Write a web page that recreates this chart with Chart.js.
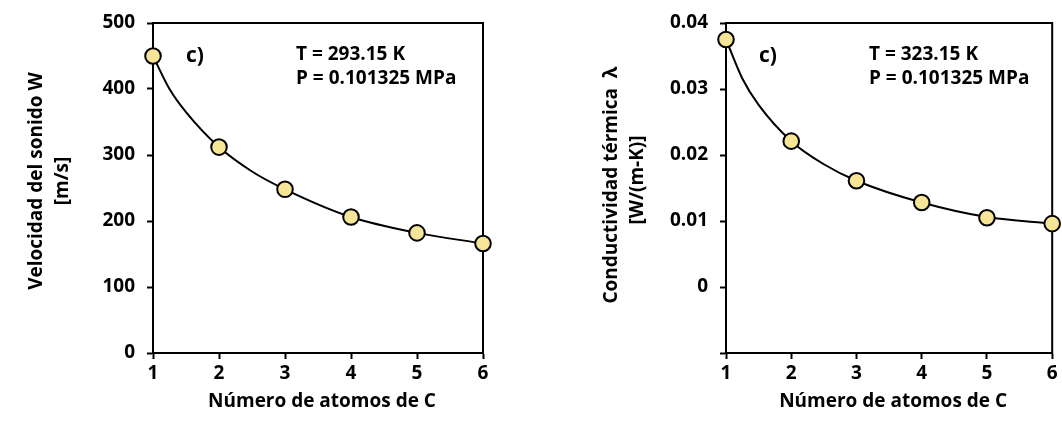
<!DOCTYPE html>
<html><head><meta charset="utf-8">
<script src="https://cdn.jsdelivr.net/npm/chart.js@4.4.1/dist/chart.umd.min.js"></script>
<style>
html,body{margin:0;padding:0;background:#fff;}
#wrap{position:relative;width:1062px;height:423px;overflow:hidden;background:#fff;}
.panel{position:absolute;top:0;width:531px;height:423px;}
canvas{display:block;}
</style></head><body>
<div id="wrap">
  <div class="panel" style="left:0"><canvas id="c1" width="531" height="423"></canvas></div>
  <div class="panel" style="left:531px"><canvas id="c2" width="531" height="423"></canvas></div>
</div>
<script>
// ---- data (measured points) ----
const carbonAtoms = [1, 2, 3, 4, 5, 6];
const soundSpeed = [450, 312, 248, 206, 182, 166];
const thermalConductivity = [0.0375, 0.0221, 0.0161, 0.0128, 0.0105, 0.0096];

// ---- fitted trend curve ----
const curveAtoms = [1, 1.25, 1.5, 2, 2.5, 3, 4, 5, 6];
const soundSpeedCurve = [450, 400, 365, 312, 275, 248, 206, 182, 166];
const conductivityCurve = [0.0375, 0.0316, 0.0276, 0.0221, 0.0186, 0.0161, 0.0128, 0.0106, 0.0096];

// ---- tick labels ----
const atomTicks = [1, 2, 3, 4, 5, 6];
const speedTicks = [0, 100, 200, 300, 400, 500];
const speedTickLabels = ['0', '100', '200', '300', '400', '500'];
const conductivityTicks = [-0.01, 0, 0.01, 0.02, 0.03, 0.04];
const conductivityTickLabels = ['', '0', '0.01', '0.02', '0.03', '0.04'];

const FONT = "'Open Sans', 'Noto Sans', sans-serif";
const POINT_FILL = '#f6e497';

const panelText = {
  id: 'panelText',
  beforeDatasetsDraw(chart) {
    const ctx = chart.ctx, a = chart.chartArea;
    ctx.save();
    ctx.strokeStyle = '#000';
    ctx.lineWidth = 2;
    ctx.beginPath();
    ctx.moveTo(a.left - 1, a.top);
    ctx.lineTo(a.right, a.top);
    ctx.lineTo(a.right, a.bottom + 1);
    ctx.stroke();
    ctx.restore();
  },
  afterDraw(chart, args, o) {
    const ctx = chart.ctx, a = chart.chartArea;
    ctx.save();
    ctx.fillStyle = '#000';
    ctx.textAlign = 'center';
    ctx.textBaseline = 'middle';
    ctx.font = 'bold ' + o.titleSize + 'px ' + FONT;
    o.yTitle.forEach((t, i) => {
      ctx.save();
      ctx.translate(o.yTitlePos[i][0], o.yTitlePos[i][1]);
      ctx.rotate(-Math.PI / 2);
      ctx.fillText(t, 0, 0);
      ctx.restore();
    });
    ctx.fillText(o.xTitle, (a.left + a.right) / 2 + 4, 402);
    ctx.textAlign = 'left';
    ctx.textBaseline = 'alphabetic';
    ctx.font = 'bold 21px ' + FONT;
    ctx.fillText(o.tag, a.left + 33, 62);
    ctx.font = 'bold 19px ' + FONT;
    o.conditions.forEach((t, i) => ctx.fillText(t, a.left + 143, 59.5 + i * 24));
    ctx.restore();
  }
};

function makeChart(id, values, curveValues, yTicks, yLabels, yMin, yMax, yWidth, padRight, textOpts) {
  const pts = carbonAtoms.map((x, i) => ({ x: x, y: values[i] }));
  const curve = curveAtoms.map((x, i) => ({ x: x, y: curveValues[i] }));
  return new Chart(document.getElementById(id), {
    type: 'scatter',
    data: {
      datasets: [
        {
          data: pts,
          showLine: false,
          pointRadius: 7.8,
          pointHoverRadius: 7.8,
          pointBackgroundColor: POINT_FILL,
          pointBorderColor: '#000',
          pointBorderWidth: 2,
          clip: false,
          order: 1
        },
        {
          data: curve,
          showLine: true,
          pointRadius: 0,
          borderColor: '#000',
          borderWidth: 2,
          cubicInterpolationMode: 'monotone',
          fill: false,
          clip: false,
          order: 2
        }
      ]
    },
    options: {
      responsive: false,
      animation: false,
      events: [],
      layout: { padding: { top: 23, right: padRight, bottom: 0, left: 0 } },
      plugins: { legend: { display: false }, tooltip: { enabled: false }, panelText: textOpts },
      scales: {
        x: {
          type: 'linear', min: 1, max: 6,
          afterBuildTicks: s => { s.ticks = atomTicks.map(v => ({ value: v })); },
          afterFit: s => { s.height = 70; s.paddingLeft = 0; s.paddingRight = 0; },
          grid: { drawOnChartArea: false, drawTicks: true, tickLength: 6, tickWidth: 2, tickColor: '#000' },
          border: { display: true, color: '#000', width: 2 },
          ticks: { color: '#000', padding: 3, font: { family: FONT, size: 19, weight: 'bold' },
                   callback: v => String(v), maxRotation: 0 }
        },
        y: {
          type: 'linear', min: yMin, max: yMax,
          afterBuildTicks: s => { s.ticks = yTicks.map(v => ({ value: v })); },
          afterFit: s => { s.width = yWidth; s.paddingTop = 0; s.paddingBottom = 0; },
          grid: { drawOnChartArea: false, drawTicks: true, tickLength: 6, tickWidth: 2, tickColor: '#000' },
          border: { display: true, color: '#000', width: 2 },
          ticks: { color: '#000', padding: 12, font: { family: FONT, size: 19, weight: 'bold' },
                   callback: (v, i) => yLabels[i] }
        }
      }
    },
    plugins: [panelText]
  });
}

makeChart('c1', soundSpeed, soundSpeedCurve, speedTicks, speedTickLabels, 0, 500, 153, 48, {
  titleSize: 19,
  yTitle: ['Velocidad del sonido W', '[m/s]'],
  yTitlePos: [[37, 181], [63, 181]],
  xTitle: 'Número de atomos de C',
  tag: 'c)',
  conditions: ['T = 293.15 K', 'P = 0.101325 MPa']
});

makeChart('c2', thermalConductivity, conductivityCurve, conductivityTicks, conductivityTickLabels, -0.01, 0.04, 195, 6, {
  titleSize: 19,
  yTitle: ['Conductividad térmica  λ', '[W/(m-K)]'],
  yTitlePos: [[81, 185], [107, 180]],
  xTitle: 'Número de atomos de C',
  tag: 'c)',
  conditions: ['T = 323.15 K', 'P = 0.101325 MPa']
});
</script>
</body></html>
